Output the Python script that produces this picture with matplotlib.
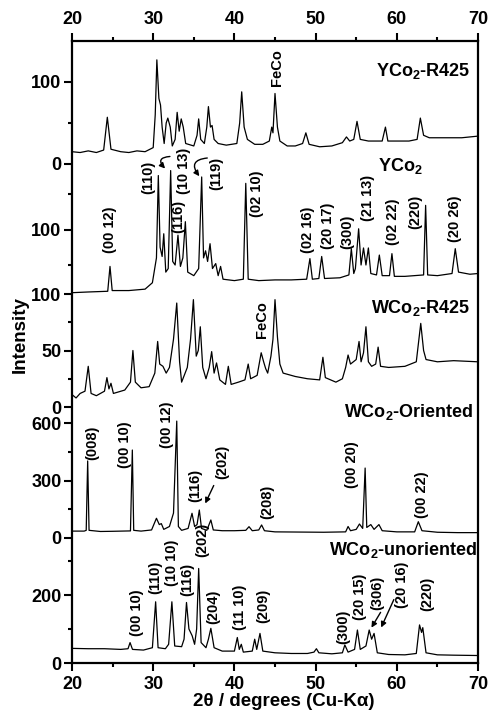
import matplotlib
matplotlib.use("Agg")
import matplotlib.pyplot as plt
from matplotlib.ticker import FixedLocator

plt.rcParams['font.family'] = ['Liberation Sans', 'DejaVu Sans']
plt.rcParams['font.weight'] = 'bold'
plt.rcParams['mathtext.fontset'] = 'custom'
plt.rcParams['mathtext.rm'] = 'Liberation Sans:bold'
plt.rcParams['mathtext.bf'] = 'Liberation Sans:bold'
plt.rcParams['mathtext.default'] = 'bf'

# ---- traces (2theta in degrees, intensity in panel units) ----
yco2_r425_tt = [20.0, 21, 22, 23, 23.9, 24.35, 24.8, 26, 27, 28, 29, 30.0, 30.25, 30.45, 30.7, 30.9,
                31.1, 31.35, 31.6, 31.8, 32.1, 32.35, 32.7, 32.95, 33.2, 33.45, 33.7, 34.0, 35.0,
                35.4, 35.6, 35.85, 36.3, 36.6, 36.8, 37.05, 37.25, 37.5, 38.0, 39, 40.3, 40.65,
                40.9, 41.2, 41.6, 42.5, 43.5, 44.3, 44.6, 44.75, 45.0, 45.3, 45.6, 46.5, 47.5,
                48.4, 48.8, 49.2, 50.5, 52, 53.3, 53.8, 54.2, 54.7, 55.1, 55.5, 56.5, 58.2, 58.6,
                58.9, 60, 61.5, 62.5, 62.9, 63.3, 64.0, 66, 68, 70]
yco2_r425_int = [15, 14, 16, 14, 17, 57, 18, 15, 14, 16, 15, 20, 60, 127, 80, 72,
                 45, 25, 50, 56, 45, 22, 30, 63, 40, 55, 45, 25, 22,
                 35, 55, 30, 25, 45, 70, 45, 47, 30, 25, 23, 25, 50,
                 88, 45, 30, 24, 24, 28, 45, 38, 86, 45, 28, 22, 22,
                 25, 38, 24, 21, 22, 26, 33, 28, 30, 52, 30, 28, 28, 45,
                 28, 28, 28, 30, 56, 35, 32, 32, 32, 34]

yco2_tt = [20, 22, 24.4, 24.68, 24.95, 27, 29, 29.9, 30.4, 30.63, 30.85, 31.1, 31.3, 31.55, 31.85,
           32.15, 32.4, 32.7, 33.05, 33.35, 33.65, 33.96, 34.25, 35.0, 35.6, 35.97, 36.2, 36.45,
           36.7, 37.0, 37.3, 37.7, 38.0, 38.3, 38.6, 40, 41.1, 41.4, 41.7, 43, 45, 47, 48.9, 49.3,
           49.6, 50.4, 50.75, 51.1, 53, 54.1, 54.4, 54.7, 54.9, 55.3, 55.6, 55.9, 56.2, 56.5,
           56.8, 57.5, 57.85, 58.2, 59.1, 59.4, 59.7, 61, 63.3, 63.55, 63.8, 65, 66.8, 67.2,
           67.6, 69, 70]
yco2_int = [11, 12, 13, 48, 14, 14, 16, 25, 60, 176, 75, 62, 94, 40, 45,
            183, 55, 50, 92, 48, 60, 111, 40, 35, 45, 174, 60, 70,
            55, 80, 45, 52, 35, 48, 30, 28, 30, 165, 30, 28, 29, 29, 30, 59,
            30, 31, 62, 31, 32, 36, 73, 38, 45, 101, 50, 74, 50, 74,
            38, 36, 64, 35, 35, 66, 34, 34, 36, 134, 36, 35, 38, 73,
            40, 37, 38]

wco2_r425_tt = [20, 20.5, 21, 21.6, 22.0, 22.35, 23, 24.0, 24.3, 24.55, 24.8, 25.1, 26.5, 27.2, 27.5,
                27.8, 28.5, 29.5, 30.2, 30.55, 30.8, 31.2, 31.6, 32.0, 32.5, 32.9, 33.25, 33.5,
                34.2, 34.6, 34.95, 35.3, 35.55, 35.8, 36.1, 36.5, 36.9, 37.2, 37.5, 37.8, 38.2,
                38.9, 39.25, 39.6, 40.5, 41.3, 41.7, 42.0, 42.8, 43.3, 43.6, 43.85, 44.1, 44.5,
                44.75, 45.0, 45.3, 45.6, 46.0, 47.5, 49, 50.5, 50.9, 51.2, 52.5, 53.3, 53.7, 54.0,
                54.3, 55.0, 55.35, 55.6, 55.9, 56.2, 56.5, 56.9, 57.4, 57.7, 58.0, 59, 61, 62.4,
                62.95, 63.3, 63.6, 65, 67, 70]
wco2_r425_int = [11, 8, 12, 14, 36, 12, 10, 14, 26, 16, 21, 12, 15, 22, 50,
                 22, 17, 18, 30, 58, 38, 36, 30, 35, 60, 92, 40, 22,
                 35, 60, 95, 45, 50, 71, 35, 25, 35, 49, 30, 39, 24,
                 20, 36, 20, 22, 24, 38, 25, 28, 48, 40, 34, 30, 45,
                 60, 95, 62, 38, 30, 27, 25, 24, 44, 26, 22, 25, 35, 46,
                 38, 42, 58, 40, 48, 71, 40, 36, 38, 53, 36, 35, 36, 40,
                 74, 50, 42, 40, 41, 40]

wco2_or_tt = [20, 21.5, 21.75, 21.93, 22.1, 23.5, 25, 27.2, 27.43, 27.6, 28.5, 29.8, 30.4, 30.75,
              31.0, 31.3, 32.0, 32.5, 32.9, 33.1, 33.5, 34.3, 34.78, 35.1, 35.4, 35.68, 35.95,
              36.6, 37.1, 37.4, 38.5, 40, 41.4, 41.8, 42.2, 43.0, 43.35, 43.7, 45, 48, 51, 53.7,
              54.0, 54.3, 55.0, 55.4, 55.8, 56.1, 56.3, 56.8, 57.2, 57.8, 58.2, 60, 62.2, 62.65,
              63.1, 65, 67.5, 70]
wco2_or_int = [36, 36, 40, 402, 40, 34, 35, 37, 459, 40, 36, 42, 103, 70,
               75, 45, 60, 130, 610, 60, 40, 50, 129, 60, 70, 146, 50,
               40, 94, 42, 38, 38, 40, 59, 38, 42, 68, 38, 32, 31, 30, 32,
               60, 38, 45, 73, 50, 365, 55, 70, 45, 70, 38, 32, 32, 85,
               38, 30, 28, 28]

wco2_un_tt = [20, 22, 24, 26, 26.9, 27.15, 27.45, 28.8, 29.9, 30.3, 30.6, 31.5, 31.9, 32.3, 32.65,
              33.5, 33.8, 34.1, 34.4, 34.8, 35.1, 35.35, 35.6, 35.9, 36.5, 36.8, 37.1, 37.5, 38.5,
              40.0, 40.36, 40.6, 40.85, 41.1, 42.2, 42.5, 42.75, 43.15, 43.5, 45, 47, 49, 49.8,
              50.1, 50.4, 52, 53.3, 53.6, 54.0, 54.8, 55.15, 55.5, 56.2, 56.6, 56.9, 57.2, 57.6,
              59, 61, 62.4, 62.8, 63.05, 63.2, 63.6, 65, 67, 70]
wco2_un_int = [43, 42, 42, 40, 42, 60, 40, 38, 45, 180, 45, 42, 55, 180, 50,
               48, 70, 178, 100, 80, 55, 100, 278, 60, 45, 70, 102, 45, 35,
               35, 75, 40, 55, 32, 35, 70, 40, 87, 35, 30, 28, 28, 32,
               42, 30, 27, 30, 53, 32, 40, 97, 40, 50, 97, 70, 87, 30,
               25, 24, 28, 112, 90, 104, 30, 24, 23, 22]

# ---- texts ----
yco2_hkl = ['(00 12)', '(110)', '(116)', '(10 13)', '(119)', '(02 10)', '(02 16)', '(20 17)',
            '(300)', '(21 13)', '(02 22)', '(220)', '(20 26)']
yco2_hkl_xy = [(24.68, 100), (29.36, 174), (33.05, 119), (33.8, 182), (37.73, 179), (42.78, 151),
               (49.06, 99), (51.5, 105), (53.87, 97), (56.45, 144), (59.53, 111), (62.24, 125),
               (67.17, 115)]
wco2_or_hkl = ['(008)', '(00 10)', '(00 12)', '(116)', '(202)', '(208)', '(00 20)', '(00 22)']
wco2_or_hkl_xy = [(22.46, 496), (26.53, 485), (31.7, 590), (35.15, 276), (38.47, 397),
                  (44.0, 188), (54.48, 381), (63.1, 224)]
wco2_un_hkl = ['(00 10)', '(110)', '(10 10)', '(116)', '(202)', '(204)', '(11 10)', '(209)',
               '(300)', '(20 15)', '(306)', '(20 16)', '(220)']
wco2_un_hkl_xy = [(28.0, 147), (30.2, 253), (32.3, 294), (34.16, 247), (36.0, 362), (37.36, 165),
                  (40.7, 165), (43.5, 168), (53.37, 106), (55.47, 194), (57.56, 206),
                  (60.64, 229), (63.72, 203)]

W, H = 490, 717
L, R, T, B = 72, 478, 41, 663
rect = [L / W, 1 - B / H, (R - L) / W, (B - T) / H]


def ylim_from(va, pa, vb, pb):
    s = (pa - pb) / (vb - va)
    return va - (B - pa) / s, va + (pa - T) / s


fig = plt.figure(figsize=(W / 100, H / 100), dpi=100)

ax = fig.add_axes(rect)
ax.set_xlim(20, 70)
ax.set_ylim(0, 1)
ax.set_yticks([])
ax.set_xticks(range(20, 71, 10))
ax.xaxis.set_minor_locator(FixedLocator(range(25, 70, 10)))
ax.tick_params(axis='x', which='both', top=True, labeltop=True, bottom=True, labelbottom=True,
               direction='out', width=1.5, labelsize=13, pad=4)
ax.tick_params(axis='x', which='major', length=5.5)
ax.tick_params(axis='x', which='minor', length=3)
for sp in ax.spines.values():
    sp.set_linewidth(1.6)
ax.patch.set_alpha(0)

panels = [
    # x, y, major, minor, (value, pixel) pairs
    (yco2_r425_tt, yco2_r425_int, [0, 100], [50], (0, 164, 100, 82)),
    (yco2_tt, yco2_int, [100], [50, 150], (50, 265, 150, 194)),
    (wco2_r425_tt, wco2_r425_int, [0, 50, 100], [25, 75], (0, 407, 100, 294)),
    (wco2_or_tt, wco2_or_int, [0, 300, 600], [150, 450], (0, 538, 600, 423)),
    (wco2_un_tt, wco2_un_int, [0, 200], [100, 300], (0, 663, 200, 595)),
]

pax = []
for tt, inten, major, minor, cal in panels:
    p = fig.add_axes(rect, frameon=False)
    p.plot(tt, inten, color='black', lw=0.9)
    p.set_xlim(20, 70)
    p.set_ylim(*ylim_from(*cal))
    p.set_xticks([])
    p.set_yticks(major)
    p.yaxis.set_minor_locator(FixedLocator(minor))
    p.tick_params(axis='y', which='both', direction='out', width=1.5, labelsize=13, pad=2)
    p.tick_params(axis='y', which='major', length=5.5)
    p.tick_params(axis='y', which='minor', length=3)
    pax.append(p)

lab_kw = dict(rotation=90, ha='center', va='center', fontsize=10.5, fontweight='bold')
name_kw = dict(ha='right', va='center', fontsize=13, fontweight='bold')

# YCo2-R425
pax[0].text(69.0, 113, r'YCo$_2$-R425', **name_kw)
pax[0].text(45.25, 118, 'FeCo', **lab_kw)

# YCo2
pax[1].text(63.2, 189, r'YCo$_2$', **name_kw)
for t, (x, y) in zip(yco2_hkl, yco2_hkl_xy):
    pax[1].text(x, y, t, **lab_kw)
arr = dict(arrowstyle='-|>', color='black', lw=1.0, mutation_scale=8)
pax[1].annotate('', xy=(31.7, 183), xytext=(32.4, 203),
                arrowprops=dict(connectionstyle='arc3,rad=1.2', **arr))
pax[1].annotate('', xy=(35.9, 172), xytext=(37.0, 201),
                arrowprops=dict(connectionstyle='arc3,rad=1.0', **arr))

# WCo2-R425
pax[2].text(69.0, 87.6, r'WCo$_2$-R425', **name_kw)
pax[2].text(43.4, 77, 'FeCo', **lab_kw)

# WCo2-Oriented
pax[3].text(69.4, 657, r'WCo$_2$-Oriented', **name_kw)
for t, (x, y) in zip(wco2_or_hkl, wco2_or_hkl_xy):
    pax[3].text(x, y, t, **lab_kw)
pax[3].annotate('', xy=(36.26, 167), xytext=(37.6, 287), arrowprops=arr)

# WCo2-unoriented
pax[4].text(69.9, 332, r'WCo$_2$-unoriented', **name_kw)
for t, (x, y) in zip(wco2_un_hkl, wco2_un_hkl_xy):
    pax[4].text(x, y, t, **lab_kw)
pax[4].annotate('', xy=(56.7, 97), xytext=(58.18, 156), arrowprops=arr)
pax[4].annotate('', xy=(57.93, 97), xytext=(59.78, 194), arrowprops=arr)

fig.text(20 / W, 1 - 335 / H, 'Intensity', rotation=90, ha='center', va='center',
         fontsize=13.5, fontweight='bold')
fig.text(284 / W, 1 - 702 / H, '2θ / degrees (Cu-Kα)', ha='center', va='center',
         fontsize=13.5, fontweight='bold')

fig.savefig('out.png', dpi=100)
